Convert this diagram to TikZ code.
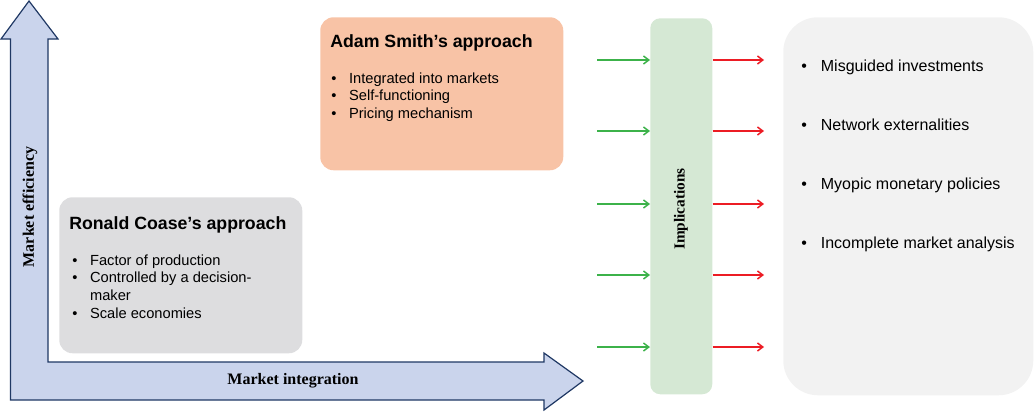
\documentclass[tikz,border=0pt]{standalone}
\usepackage{fontspec}
\setmainfont{Liberation Sans}
\newfontfamily\axisfont{Liberation Serif}
\usetikzlibrary{arrows.meta}

\definecolor{axisfill}{RGB}{202,212,236}
\definecolor{axisline}{RGB}{31,56,100}
\definecolor{coasegray}{RGB}{221,221,223}
\definecolor{smithpeach}{RGB}{248,195,166}
\definecolor{implgreen}{RGB}{213,232,212}
\definecolor{effectgray}{RGB}{242,242,242}
\definecolor{ingreen}{RGB}{60,178,74}
\definecolor{outred}{RGB}{236,28,36}

\tikzset{
  box/.style={anchor=north west, inner sep=0pt, rounded corners=10pt},
  title/.style={anchor=base west, inner sep=0pt, font=\fontsize{13.3}{16}\selectfont\bfseries},
  list/.style={anchor=base west, inner sep=0pt, font=\fontsize{11}{13.3}\selectfont},
  effect/.style={anchor=base west, inner sep=0pt, font=\fontsize{12}{14}\selectfont},
  axislabel/.style={inner sep=0pt, font=\fontsize{12}{14}\selectfont\axisfont\bfseries},
  inarrow/.style={draw=ingreen, line width=1.1pt, -{Straight Barb[length=4pt,width=6pt]}},
  outarrow/.style={draw=outred, line width=1.1pt, -{Straight Barb[length=4pt,width=6pt]}},
}

\begin{document}
\begin{tikzpicture}[x=0.75pt, y=-0.75pt]
  \useasboundingbox (0,0) rectangle (1034,411);

  % the two axes as one L-shaped arrow
  \draw [fill=axisfill, draw=axisline, line width=0.9pt]
    (29,1) -- (58,39) -- (48,39) -- (48,362) -- (544,362) -- (544,353)
    -- (583,381) -- (544,410) -- (544,400) -- (10.5,400) -- (10.5,39)
    -- (1,39) -- cycle;
  \node [axislabel, rotate=90] (efflabel) at (30,207) {Market efficiency};
  \node [axislabel] (intlabel) at (293,381) {Market integration};

  % approaches
  \node [box, fill=coasegray, minimum width=182.25pt, minimum height=117pt] (coase) at (59,197) {};
  \node [title] (coasetitle) at (69,229) {Ronald Coase’s approach};
  \node [list] (coaselist) at (72,265) {\begin{tabular}[t]{@{}l@{\hspace{9.5pt}}l@{}}
      \textbullet & Factor of production\\
      \textbullet & Controlled by a decision-\\
                  & maker\\
      \textbullet & Scale economies
    \end{tabular}};

  \node [box, fill=smithpeach, minimum width=182.25pt, minimum height=114.75pt] (smith) at (320,17) {};
  \node [title] (smithtitle) at (330,47) {Adam Smith’s approach};
  \node [list] (smithlist) at (331,83) {\begin{tabular}[t]{@{}l@{\hspace{9.5pt}}l@{}}
      \textbullet & Integrated into markets\\
      \textbullet & Self-functioning\\
      \textbullet & Pricing mechanism
    \end{tabular}};

  % implications
  \node [box, fill=implgreen, rounded corners=7.5pt, minimum width=46.5pt, minimum height=282pt] (impl) at (650,18) {};
  \node [axislabel, rotate=90, font=\fontsize{11.5}{14}\selectfont\axisfont\bfseries] (impltext) at (681,209) {Implications};

  \foreach \y [count=\i] in {60,131,204,275,347}{
    \coordinate (gin\i) at (597,\y);
    \coordinate (rout\i) at (764,\y);
    \draw [inarrow] (gin\i) -- (gin\i -| impl.west);
    \draw [outarrow] (rout\i -| impl.east) -- (rout\i);
  }

  % effects
  \node [box, fill=effectgray, rounded corners=26pt, minimum width=187.5pt, minimum height=283.5pt] (effects) at (783,17) {};
  \foreach \txt [count=\i] in {Misguided investments, Network externalities,
      Myopic monetary policies, Incomplete market analysis}
    \node [effect] (eff\i) at (801,{71+59*(\i-1)}) {\textbullet\hspace{10.5pt}\txt};
\end{tikzpicture}
\end{document}
